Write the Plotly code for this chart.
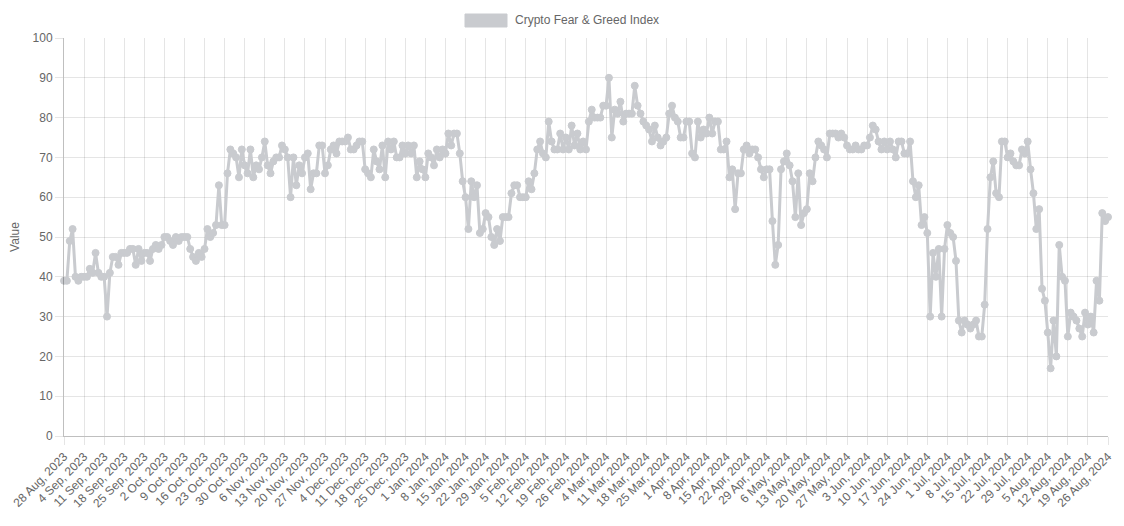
import pandas as pd
import plotly.graph_objects as go

start_date = "2023-08-28"
end_date = "2024-08-26"
series_name = "Crypto Fear & Greed Index"

# Daily index values, one row per week (Mon..Sun)
values = [
    39, 39, 49, 52, 40, 39, 40,
    40, 40, 42, 41, 46, 41, 40,
    40, 30, 41, 45, 45, 43, 46,
    46, 46, 47, 47, 43, 47, 44,
    46, 46, 44, 47, 48, 47, 48,
    50, 50, 49, 48, 50, 49, 50,
    50, 50, 47, 45, 44, 46, 45,
    47, 52, 50, 51, 53, 63, 53,
    53, 66, 72, 71, 70, 65, 72,
    68, 66, 72, 65, 68, 67, 70,
    74, 68, 66, 69, 70, 70, 73,
    72, 70, 60, 70, 63, 68, 66,
    70, 71, 62, 66, 66, 73, 73,
    66, 68, 72, 73, 71, 74, 74,
    74, 75, 72, 72, 73, 74, 74,
    67, 66, 65, 72, 69, 67, 73,
    65, 74, 72, 74, 70, 70, 73,
    71, 73, 71, 73, 65, 69, 67,
    65, 71, 70, 68, 72, 70, 72,
    71, 76, 73, 76, 76, 71, 64,
    60, 52, 64, 60, 63, 51, 52,
    56, 55, 50, 48, 52, 49, 55,
    55, 55, 61, 63, 63, 60, 60,
    60, 64, 62, 66, 72, 74, 71,
    70, 79, 74, 72, 72, 76, 72,
    75, 72, 78, 73, 76, 72, 74,
    72, 79, 82, 80, 80, 80, 83,
    83, 90, 75, 82, 81, 84, 79,
    81, 81, 81, 88, 83, 81, 79,
    78, 77, 74, 78, 75, 73, 74,
    75, 81, 83, 80, 79, 75, 75,
    79, 79, 71, 70, 79, 75, 77,
    76, 80, 76, 79, 79, 72, 72,
    74, 65, 67, 57, 66, 66, 72,
    73, 71, 72, 72, 70, 67, 65,
    67, 67, 54, 43, 48, 67, 69,
    71, 68, 64, 55, 66, 53, 56,
    57, 66, 64, 70, 74, 73, 72,
    70, 76, 76, 76, 75, 76, 75,
    73, 72, 72, 73, 72, 72, 73,
    73, 75, 78, 77, 74, 72, 74,
    72, 74, 72, 70, 74, 74, 71,
    71, 74, 64, 60, 63, 53, 55,
    51, 30, 46, 40, 47, 30, 47,
    53, 51, 50, 44, 29, 26, 29,
    28, 27, 28, 29, 25, 25, 33,
    52, 65, 69, 61, 60, 74, 74,
    70, 71, 69, 68, 68, 72, 71,
    74, 67, 61, 52, 57, 37, 34,
    26, 17, 29, 20, 48, 40, 39,
    25, 31, 30, 29, 27, 25, 31,
    28, 30, 26, 39, 34, 56, 54,
    55,
]

dates = pd.date_range(start_date, end_date, freq="D")
labels = [f"{d.day} {d.strftime('%b')}, {d.year}" for d in dates]
tick_labels = labels[::7]

GREY = "rgb(201,203,207)"
TXT = "#666666"
FONT = "Liberation Sans, Arial, Helvetica, sans-serif"

# page body has an 8px margin; figure is sized to fit the window inside it
W, H = 1108, 510
L, R, T, B = 56, 8, 30, 82
PW, PH = W - L - R, H - T - B

fig = go.Figure()
fig.add_trace(go.Scatter(
    x=labels, y=values, mode="lines+markers", name=series_name,
    line=dict(color=GREY, width=3),
    marker=dict(color=GREY, size=7, line=dict(color=GREY, width=1)),
    cliponaxis=False, showlegend=False,
))

fig.update_layout(
    width=W, height=H,
    margin=dict(l=L, r=R, t=T, b=B),
    paper_bgcolor="white", plot_bgcolor="white",
    font=dict(family=FONT, size=12, color=TXT),
    xaxis=dict(
        type="category", range=[0, len(labels) - 1], automargin=False,
        tickmode="array", tickvals=tick_labels, ticktext=tick_labels,
        tickangle=-45, showgrid=True, gridcolor="rgba(0,0,0,0.1)", gridwidth=1,
        ticks="outside", ticklen=8, tickcolor="rgba(0,0,0,0.1)",
        showline=True, linecolor="rgba(0,0,0,0.25)", linewidth=1,
        tickfont=dict(size=12, color=TXT), zeroline=False,
    ),
    yaxis=dict(
        range=[0, 100], tickmode="linear", tick0=0, dtick=10, automargin=False,
        showgrid=True, gridcolor="rgba(0,0,0,0.1)", gridwidth=1,
        ticks="outside", ticklen=8, tickcolor="rgba(0,0,0,0.1)",
        showline=True, linecolor="rgba(0,0,0,0.25)", linewidth=1,
        zeroline=False, tickfont=dict(size=12, color=TXT),
        title=dict(text="Value", font=dict(size=12, color=TXT), standoff=10),
    ),
    shapes=[dict(
        type="rect", xref="paper", yref="paper",
        x0=(457 - L) / PW, x1=(499 - L) / PW,
        y0=1 + (T - 19) / PH, y1=1 + (T - 6) / PH,
        fillcolor=GREY, line=dict(color=GREY, width=1),
    )],
    annotations=[dict(
        text=series_name, xref="paper", yref="paper",
        x=(505 - L) / PW, y=1 + (T - 12.5) / PH,
        xanchor="left", yanchor="middle", showarrow=False,
        font=dict(size=12, color=TXT, family=FONT),
    )],
)

fig.write_html("out.html")
